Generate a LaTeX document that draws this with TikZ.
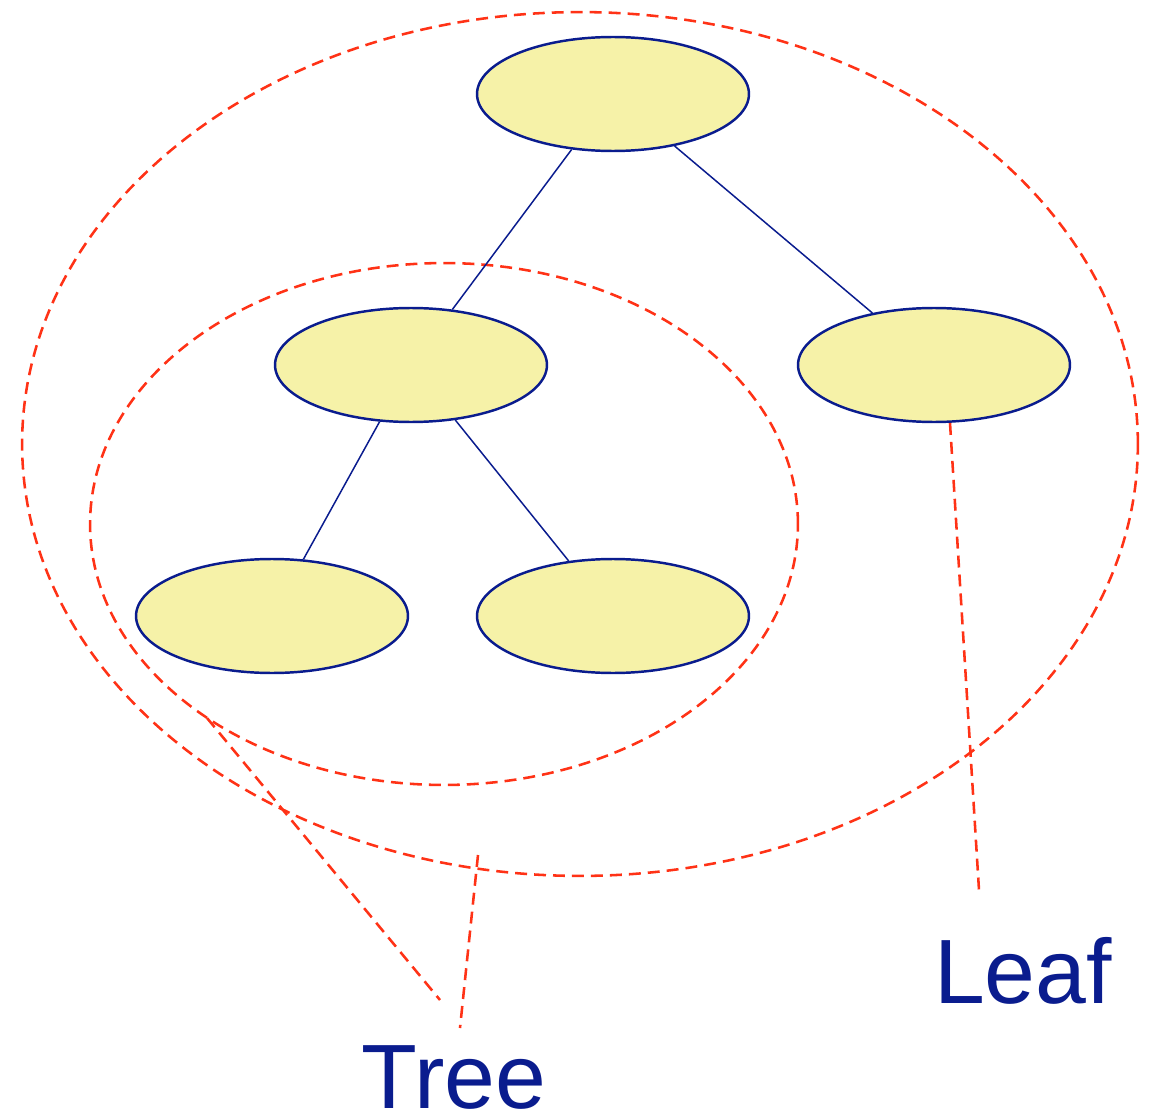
\documentclass[tikz,border=0pt]{standalone}
\usepackage{fontspec}
\setmainfont{Liberation Sans}
\usetikzlibrary{shapes.geometric}
\definecolor{nodefill}{HTML}{F6F2A8}
\definecolor{navy}{HTML}{0A1C8E}
\definecolor{ringred}{HTML}{FF3216}
\tikzset{
  treenode/.style={ellipse, draw=navy, fill=nodefill, line width=1.4pt,
    minimum width=5.44cm, minimum height=2.28cm, inner sep=0pt},
  branch/.style={draw=navy, line width=0.85pt},
  ring/.style={ellipse, draw=ringred, line width=1.45pt,
    dash pattern=on 6.8pt off 4pt, inner sep=0pt},
  pointer/.style={draw=ringred, line width=1.45pt, dash pattern=on 6.8pt off 4pt},
  caption/.style={text=navy, font=\fontsize{52}{60}\selectfont, anchor=base, inner sep=0pt}
}
\begin{document}
\begin{tikzpicture}[x=0.02cm, y=-0.02cm]
  \useasboundingbox (0,0) rectangle (1154,1115);

  % grouping rings
  \node[ring, minimum width=22.32cm, minimum height=17.28cm] (outer) at (580,444) {};
  \node[ring, minimum width=14.16cm, minimum height=10.44cm] (inner) at (444,524) {};

  % tree nodes
  \node[treenode] (root) at (613,94) {};
  \node[treenode] (mid) at (411,365) {};
  \node[treenode] (side) at (934,365) {};
  \node[treenode] (lowl) at (272,616) {};
  \node[treenode] (lowr) at (613,616) {};

  \draw[branch] (root) -- (mid);
  \draw[branch] (root) -- (side);
  \draw[branch] (mid) -- (lowl);
  \draw[branch] (mid) -- (lowr);

  % labels
  \node[caption] (tree) at (454,1108) {Tree};
  \node[caption] (leaf) at (1023,1003) {Leaf};

  % pointer ends
  \coordinate (pa) at (207,718);
  \coordinate (pb) at (478,855);
  \coordinate (pc) at (950,423);
  \coordinate (ta) at (440,1000);
  \coordinate (tb) at (460,1028);
  \coordinate (la) at (979,890);

  \draw[pointer] (pa) -- (ta);
  \draw[pointer] (pb) -- (tb);
  \draw[pointer] (pc) -- (la);
\end{tikzpicture}
\end{document}
